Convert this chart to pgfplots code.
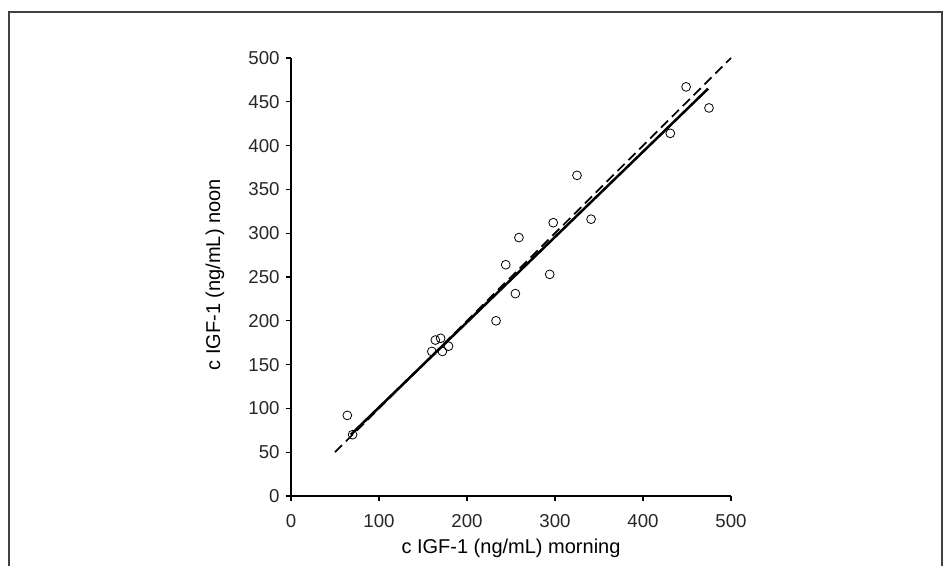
\documentclass[border=0pt]{standalone}
\usepackage{pgfplots}
\pgfplotsset{compat=1.18}
\usepackage{fontspec}
\setmainfont{Liberation Sans}
\begin{document}
\begin{tikzpicture}[x=1pt,y=1pt]
\useasboundingbox (0,0) rectangle (707.25,424.5);
\draw[black!75, line width=1.1pt] (6.75,0) -- (6.75,415.5) -- (706.5,415.5) -- (706.5,0);
\begin{axis}[
  at={(218.25pt,52.5pt)}, anchor=south west,
  width=330pt, height=328.5pt, scale only axis,
  xmin=0, xmax=500, ymin=0, ymax=500,
  axis x line*=bottom, axis y line*=left,
  xtick={0,100,...,500}, ytick={0,50,...,500},
  tick align=outside, major tick length=4pt,
  tick style={black, line width=0.9pt},
  axis line style={black, line width=0.9pt},
  ticklabel style={font=\fontsize{14}{16}\selectfont, text=black!85},
  xticklabel style={yshift=-6pt},
  yticklabel style={xshift=-1pt},
  /pgf/number format/assume math mode=true,
  label style={font=\fontsize{15}{18}\selectfont},
  xlabel={c IGF-1 (ng/mL) morning},
  ylabel={c IGF-1 (ng/mL) noon},
  xlabel style={at={(axis description cs:0.5,-0.119)}, anchor=center},
  ylabel style={at={(axis description cs:-0.173,0.505)}, anchor=center},
  clip=false,
]
\addplot[only marks, mark=o, mark size=3.3pt, mark options={line width=0.6pt, black}] coordinates {
(64,92) (70,70)
(164,178) (170,180) (179,171) (172,165) (160,165)
(233,200)
(325,366) (341,316) (298,312) (259,295) (244,264) (294,253) (255,231)
(449,467) (475,443) (431,414)
};
\addplot[black, line width=1.3pt, dash pattern=on 7.5pt off 4pt] coordinates {(50,50) (500,500)};
\addplot[black, line width=1.9pt] coordinates {(68,70) (474,465)};
\end{axis}
\end{tikzpicture}
\end{document}
